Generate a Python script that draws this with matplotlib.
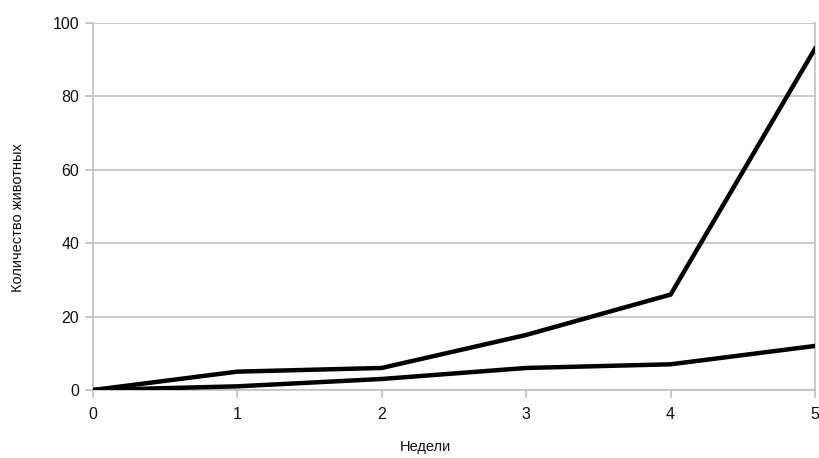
import matplotlib.pyplot as plt

# Data
weeks = [0, 1, 2, 3, 4, 5]
series_fast = [0, 5, 6, 15, 26, 93]
series_slow = [0, 1, 3, 6, 7, 12]
y_ticks = [0, 20, 40, 60, 80, 100]

plt.rcParams['font.family'] = ['Liberation Sans', 'DejaVu Sans']

fig = plt.figure(figsize=(8.2, 4.58), dpi=100)
ax = fig.add_axes([0.1134, 0.1485, 0.8805, 0.8013])

grid_col = '#c0c0c0'
ax.plot(weeks, series_fast, color='black', lw=3.2, solid_joinstyle='miter', zorder=3)
ax.plot(weeks, series_slow, color='black', lw=3.2, solid_joinstyle='miter', zorder=3)

ax.set_xlim(0, 5)
ax.set_ylim(0, 100)
ax.set_xticks(weeks)
ax.set_yticks(y_ticks)
ax.yaxis.grid(True, color=grid_col, lw=1.2)
ax.set_axisbelow(True)

for s in ['left', 'right', 'bottom']:
    ax.spines[s].set_color(grid_col)
    ax.spines[s].set_linewidth(1.2)
ax.spines['top'].set_visible(False)

ax.tick_params(axis='both', colors=grid_col, length=6, width=1.2,
               labelsize=11.5, labelcolor='#111111', pad=4)
ax.tick_params(axis='x', pad=6)

ax.set_xlabel('Недели', fontsize=10.5, color='#111111')
ax.set_ylabel('Количество животных', fontsize=10.5, color='#111111')
ax.xaxis.set_label_coords(0.46, -0.135)
ax.yaxis.set_label_coords(-0.094, 0.47)

fig.savefig('out.png', dpi=100)
